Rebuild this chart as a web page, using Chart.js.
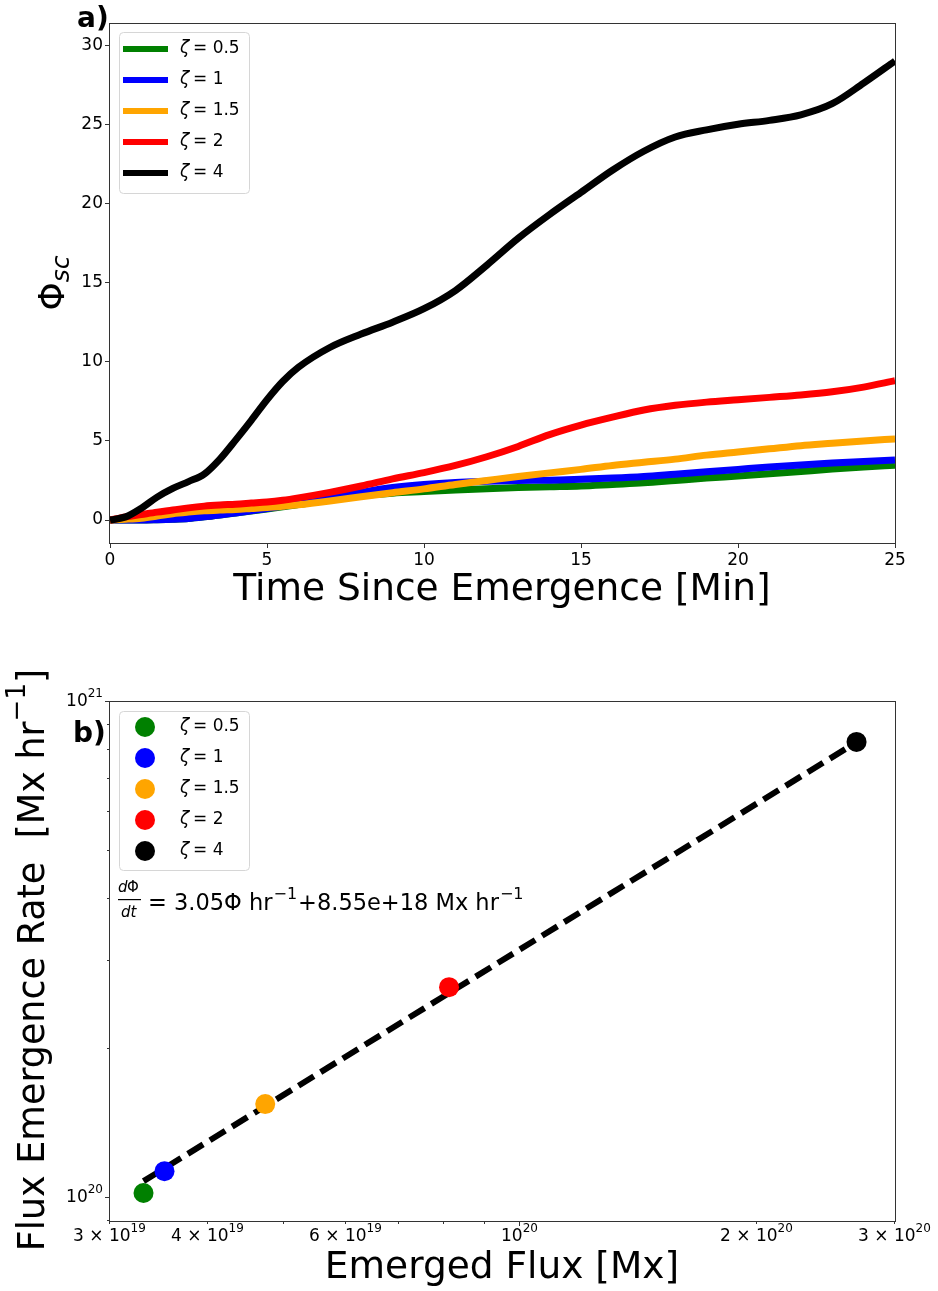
<!DOCTYPE html>
<html>
<head>
<meta charset="utf-8">
<script src="https://cdn.jsdelivr.net/npm/chart.js@4.4.0/dist/chart.umd.min.js"></script>
<style>
html, body { margin: 0; padding: 0; background: #fff; }
#wrap { position: relative; width: 938px; height: 1291px; }
#flux { position: absolute; left: 0; top: 0; }
#rate { position: absolute; left: 0; top: 640px; }
</style>
</head>
<body>
<div id="wrap">
  <canvas id="flux" width="938" height="640"></canvas>
  <canvas id="rate" width="938" height="651"></canvas>
</div>
<script>
// panel a) : unsigned flux vs time
const times = [0, 0.5, 1, 1.5, 2, 2.5, 3, 3.5, 4, 4.5, 5, 5.5, 6, 7, 8, 9, 10, 11, 12, 13, 14, 15, 16, 17, 18, 19, 20, 21, 22, 23, 24, 25];
const phiZeta05 = [0, 0, 0, 0.02, 0.05, 0.1, 0.2, 0.32, 0.45, 0.57, 0.7, 0.84, 0.98, 1.3, 1.55, 1.7, 1.8, 1.9, 1.98, 2.05, 2.1, 2.15, 2.25, 2.35, 2.5, 2.65, 2.78, 2.92, 3.07, 3.22, 3.35, 3.47];
const phiZeta1 = [0, 0, 0, 0.02, 0.05, 0.1, 0.2, 0.32, 0.45, 0.58, 0.72, 0.88, 1.02, 1.4, 1.75, 2.05, 2.25, 2.38, 2.45, 2.5, 2.52, 2.58, 2.65, 2.75, 2.9, 3.05, 3.2, 3.35, 3.48, 3.6, 3.7, 3.8];
const phiZeta15 = [0, 0.05, 0.12, 0.25, 0.4, 0.5, 0.58, 0.63, 0.67, 0.73, 0.79, 0.87, 0.96, 1.2, 1.47, 1.73, 1.97, 2.25, 2.5, 2.75, 2.98, 3.2, 3.45, 3.65, 3.85, 4.1, 4.3, 4.5, 4.7, 4.85, 5.0, 5.12];
const phiZeta2 = [0, 0.2, 0.35, 0.5, 0.63, 0.77, 0.88, 0.95, 1.0, 1.07, 1.14, 1.25, 1.4, 1.75, 2.15, 2.6, 3.0, 3.45, 4.0, 4.65, 5.4, 6.0, 6.5, 6.95, 7.25, 7.45, 7.6, 7.75, 7.9, 8.1, 8.4, 8.8];
const phiZeta4 = [0, 0.2, 0.75, 1.45, 2.0, 2.43, 2.9, 3.85, 5.05, 6.3, 7.6, 8.75, 9.65, 10.9, 11.75, 12.5, 13.35, 14.5, 16.1, 17.8, 19.3, 20.7, 22.1, 23.3, 24.2, 24.65, 25.0, 25.25, 25.6, 26.3, 27.6, 29.0];
const timeTicks = [0, 5, 10, 15, 20, 25];
const phiTicks = [0, 5, 10, 15, 20, 25, 30];

// panel b) : emergence rate vs emerged flux
const zetaLabels = ['0.5', '1', '1.5', '2', '4'];
const emergedFlux = [3.31e19, 3.52e19, 4.73e19, 8.11e19, 2.68e20];
const emergenceRate = [1.019e20, 1.128e20, 1.54e20, 2.65e20, 8.27e20];
const fitFlux = [3.31e19, 2.68e20];
const fitRate = [1.077e20, 8.26e20];
const fluxTicks = [3e19, 4e19, 5e19, 6e19, 7e19, 8e19, 9e19, 1e20, 2e20, 3e20];
const fluxTickLabels = ['3 × 10^19', '4 × 10^19', '', '6 × 10^19', '', '', '', '10^20', '2 × 10^20', '3 × 10^20'];
const rateTicks = [9e19, 1e20, 2e20, 3e20, 4e20, 5e20, 6e20, 7e20, 8e20, 9e20, 1e21];
const rateTickLabels = ['', '10^20', '', '', '', '', '', '', '', '', '10^21'];

const zetaColors = ['green', 'blue', 'orange', 'red', 'black'];
const FONT = "'DejaVu Sans', sans-serif";
const phiSeries = [phiZeta05, phiZeta1, phiZeta15, phiZeta2, phiZeta4];

// draws "base^exp" (optionally followed by a tail) with a raised exponent
function drawPow(ctx, text, x, y, align, size, tail) {
    const parts = text.split('^');
    const base = parts[0], exp = parts[1] || '';
    tail = tail || '';
    const esize = Math.round(size * 0.7);
    ctx.font = size + 'px ' + FONT;
    const bw = ctx.measureText(base).width;
    const tw = ctx.measureText(tail).width;
    ctx.font = esize + 'px ' + FONT;
    const ew = ctx.measureText(exp).width;
    let x0 = x;
    const total = bw + ew + tw;
    if (align === 'center') x0 = x - total / 2;
    if (align === 'right') x0 = x - total;
    ctx.textAlign = 'left';
    ctx.textBaseline = 'middle';
    ctx.font = size + 'px ' + FONT;
    ctx.fillText(base, x0, y);
    if (tail) ctx.fillText(tail, x0 + bw + ew, y);
    ctx.font = esize + 'px ' + FONT;
    ctx.fillText(exp, x0 + bw, y - size * 0.45);
}

function drawLegend(ctx, box, rowY, kind) {
    ctx.save();
    ctx.fillStyle = 'rgba(255,255,255,0.85)';
    ctx.strokeStyle = '#d6d6d6';
    ctx.lineWidth = 1;
    ctx.beginPath();
    ctx.roundRect(box.x + 0.5, box.y + 0.5, box.w, box.h, 4);
    ctx.fill();
    ctx.stroke();
    zetaLabels.forEach((z, i) => {
        const y = rowY + 31 * i;
        if (kind === 'line') {
            ctx.strokeStyle = zetaColors[i];
            ctx.lineWidth = 6;
            ctx.beginPath();
            ctx.moveTo(123, y);
            ctx.lineTo(168, y);
            ctx.stroke();
        } else {
            ctx.fillStyle = zetaColors[i];
            ctx.beginPath();
            ctx.arc(145, y, 10, 0, Math.PI * 2);
            ctx.fill();
        }
        ctx.fillStyle = '#000';
        ctx.textBaseline = 'middle';
        ctx.textAlign = 'left';
        ctx.font = 'italic 17px ' + FONT;
        ctx.fillText('ζ', 180, y);
        ctx.font = '17px ' + FONT;
        ctx.fillText('= ' + z, 193, y);
    });
    ctx.restore();
}

function drawFrame(chart) {
    const { ctx, chartArea: a } = chart;
    ctx.save();
    ctx.strokeStyle = '#333';
    ctx.lineWidth = 1;
    ctx.strokeRect(Math.round(a.left) - 0.5, Math.round(a.top) + 0.5, Math.round(a.right - a.left) + 1, Math.round(a.bottom - a.top));
    ctx.restore();
}

const fluxDecor = {
    id: 'fluxDecor',
    afterDraw(chart) {
        const ctx = chart.ctx;
        drawFrame(chart);
        drawLegend(ctx, { x: 119, y: 32, w: 130, h: 161 }, 49, 'line');
        ctx.save();
        ctx.fillStyle = '#000';
        ctx.textAlign = 'center';
        ctx.textBaseline = 'middle';
        ctx.font = '37.5px ' + FONT;
        ctx.fillText('Time Since Emergence [Min]', 502, 590);
        // y title: Phi_sc
        ctx.translate(55, 283);
        ctx.rotate(-Math.PI / 2);
        ctx.font = '36px ' + FONT;
        const pw = ctx.measureText('Φ').width;
        ctx.font = 'italic 25px ' + FONT;
        const sw = ctx.measureText('sc').width;
        ctx.textAlign = 'left';
        ctx.font = '36px ' + FONT;
        ctx.fillText('Φ', -(pw + sw) / 2, 0);
        ctx.font = 'italic 25px ' + FONT;
        ctx.fillText('sc', -(pw + sw) / 2 + pw, 7);
        ctx.restore();
        ctx.save();
        ctx.fillStyle = '#000';
        ctx.font = 'bold 28px ' + FONT;
        ctx.textAlign = 'left';
        ctx.textBaseline = 'middle';
        ctx.fillText('a)', 77, 20);
        ctx.restore();
    }
};

new Chart(document.getElementById('flux'), {
    type: 'line',
    data: {
        datasets: phiSeries.map((s, i) => ({
            label: 'ζ = ' + zetaLabels[i],
            data: times.map((t, j) => ({ x: t, y: s[j] })),
            borderColor: zetaColors[i],
            borderWidth: 7,
            pointRadius: 0,
            cubicInterpolationMode: 'monotone',
            order: 5 - i
        }))
    },
    options: {
        responsive: false,
        animation: false,
        events: [],
        layout: { padding: { top: 23, right: 43, left: 0, bottom: 0 } },
        plugins: { legend: { display: false }, tooltip: { enabled: false } },
        scales: {
            x: {
                type: 'linear', min: 0, max: 25,
                afterBuildTicks: s => { s.ticks = timeTicks.map(v => ({ value: v })); },
                afterFit: s => { s.height = 97; },
                border: { display: false },
                grid: { drawOnChartArea: false, tickLength: 5, color: '#333' },
                ticks: { font: { family: FONT, size: 17 }, color: '#000', padding: 2, maxRotation: 0, autoSkip: false }
            },
            y: {
                min: -1.45, max: 31.4,
                afterBuildTicks: s => { s.ticks = phiTicks.map(v => ({ value: v })); },
                afterFit: s => { s.width = 110; },
                border: { display: false },
                grid: { drawOnChartArea: false, tickLength: 5, color: '#333' },
                ticks: { font: { family: FONT, size: 17 }, color: '#000', padding: 2, autoSkip: false }
            }
        }
    },
    plugins: [fluxDecor]
});

const rateDecor = {
    id: 'rateDecor',
    afterDraw(chart) {
        const ctx = chart.ctx;
        const xs = chart.scales.x, ys = chart.scales.y, a = chart.chartArea;
        drawFrame(chart);
        ctx.save();
        ctx.strokeStyle = '#333';
        ctx.fillStyle = '#000';
        ctx.lineWidth = 1;
        fluxTicks.forEach((v, i) => {
            const px = Math.round(xs.getPixelForValue(v)) - 0.5;
            const len = v === 1e20 ? 5 : 3;
            ctx.beginPath();
            ctx.moveTo(px, a.bottom);
            ctx.lineTo(px, a.bottom + len);
            ctx.stroke();
            if (fluxTickLabels[i]) drawPow(ctx, fluxTickLabels[i], px, a.bottom + 16, 'center', 17);
        });
        rateTicks.forEach((v, i) => {
            const py = Math.round(ys.getPixelForValue(v)) + 0.5;
            const len = (v === 1e20 || v === 1e21) ? 5 : 3;
            ctx.beginPath();
            ctx.moveTo(a.left, py);
            ctx.lineTo(a.left - len, py);
            ctx.stroke();
            if (rateTickLabels[i]) drawPow(ctx, rateTickLabels[i], a.left - 7, py, 'right', 17);
        });
        ctx.restore();

        drawLegend(ctx, { x: 119, y: 71, w: 130, h: 159 }, 87, 'dot');

        ctx.save();
        ctx.fillStyle = '#000';
        ctx.textAlign = 'center';
        ctx.textBaseline = 'middle';
        ctx.font = '37.5px ' + FONT;
        ctx.fillText('Emerged Flux [Mx]', 502, 628);
        // rotated y title with exponent
        ctx.translate(35, 320);
        ctx.rotate(-Math.PI / 2);
        drawPow(ctx, 'Flux Emergence Rate  [Mx hr^−1', 0, 0, 'center', 36.5, ']');
        ctx.restore();

        // fit equation
        ctx.save();
        ctx.fillStyle = '#000';
        ctx.textBaseline = 'alphabetic';
        ctx.textAlign = 'left';
        ctx.font = 'italic 15px ' + FONT;
        ctx.fillText('d', 118, 252);
        ctx.font = '15px ' + FONT;
        ctx.fillText('Φ', 127, 252);
        ctx.font = 'italic 15px ' + FONT;
        ctx.fillText('dt', 121, 277);
        ctx.fillRect(118, 259, 23, 1.2);
        ctx.font = '22.5px ' + FONT;
        ctx.fillText('= 3.05Φ hr', 148, 270);
        let w = ctx.measureText('= 3.05Φ hr').width;
        ctx.font = '16px ' + FONT;
        ctx.fillText('−1', 148 + w + 1, 259);
        let w2 = ctx.measureText('−1').width;
        ctx.font = '22.5px ' + FONT;
        const rest = '+8.55e+18 Mx hr';
        ctx.fillText(rest, 148 + w + w2 + 2, 270);
        const w3 = ctx.measureText(rest).width;
        ctx.font = '16px ' + FONT;
        ctx.fillText('−1', 148 + w + w2 + 2 + w3 + 1, 259);
        ctx.font = 'bold 28px ' + FONT;
        ctx.textBaseline = 'middle';
        ctx.fillText('b)', 73, 95);
        ctx.restore();
    }
};

const rateSets = zetaLabels.map((z, i) => ({
    label: 'ζ = ' + z,
    data: [{ x: emergedFlux[i], y: emergenceRate[i] }],
    backgroundColor: zetaColors[i],
    borderWidth: 0,
    pointRadius: 10,
    pointHoverRadius: 10,
    order: 5 - i
}));
rateSets.push({
    label: '',
    data: fitFlux.map((x, i) => ({ x: x, y: fitRate[i] })),
    showLine: true,
    borderColor: '#000',
    borderWidth: 6,
    borderDash: [18, 8],
    pointRadius: 0,
    order: 20
});

new Chart(document.getElementById('rate'), {
    type: 'scatter',
    data: { datasets: rateSets },
    options: {
        responsive: false,
        animation: false,
        events: [],
        layout: { padding: { top: 61, right: 43, left: 0, bottom: 0 } },
        plugins: { legend: { display: false }, tooltip: { enabled: false } },
        scales: {
            x: {
                type: 'logarithmic', min: 3e19, max: 3e20,
                afterFit: s => { s.height = 70; },
                border: { display: false },
                grid: { display: false },
                ticks: { display: false }
            },
            y: {
                type: 'logarithmic', min: 8.95e19, max: 1e21,
                afterFit: s => { s.width = 110; },
                border: { display: false },
                grid: { display: false },
                ticks: { display: false }
            }
        }
    },
    plugins: [rateDecor]
});
</script>
</body>
</html>
